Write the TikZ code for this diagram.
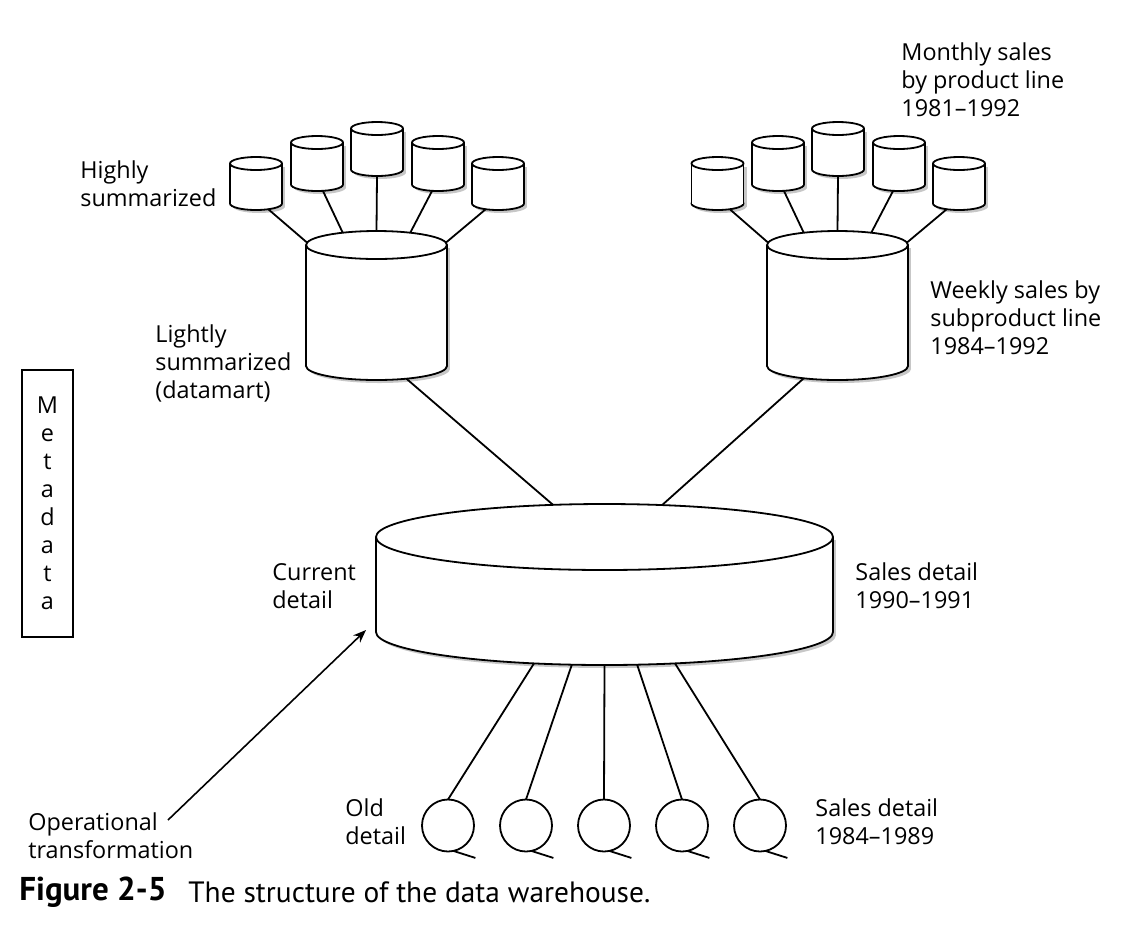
\documentclass[tikz,border=0pt]{standalone}
\usepackage{fontspec}
\setmainfont{Open Sans}
\newfontfamily\capfont{PT Sans}
\usetikzlibrary{shapes.geometric, positioning, arrows.meta}

\tikzset{
  wire/.style={line width=0.9pt},
  drumend/.style={ellipse, draw, line width=0.9pt, fill=white, inner sep=0pt, outer sep=0pt},
  tape/.style={circle, draw, line width=0.9pt, minimum size=26pt, inner sep=0pt, outer sep=0pt},
  lbl/.style={anchor=west, align=left, inner sep=0pt, font=\fontsize{11.7}{14}\selectfont},
}

% #1 name, #2 x of centre, #3 y of top centre, #4 rx, #5 ry, #6 depth
\newcommand{\drum}[6]{%
  \fill[black!22] (#2+3,#3+#6+3) ellipse [x radius=#4, y radius=#5];
  \fill[black!22] (#2-#4+3,#3+3) rectangle (#2+#4+3,#3+#6+3);
  \node[drumend, minimum width=#4pt, minimum height=#5pt] (#1b) at (#2,#3+#6) {};
  \fill[white] (#2-#4,#3) rectangle (#2+#4,#3+#6);
  \draw[wire] (#2-#4,#3) -- (#2-#4,#3+#6) (#2+#4,#3) -- (#2+#4,#3+#6);
  \node[drumend, minimum width=#4pt, minimum height=#5pt] (#1) at (#2,#3) {};
}

\begin{document}
\begin{tikzpicture}[x=0.5pt, y=-0.5pt]
\useasboundingbox (0,0) rectangle (1130,928);

% highly summarized (left)
\drum{hA}{256}{163.5}{26}{6.5}{40}
\drum{hB}{317}{142.5}{26}{6.5}{42}
\drum{hC}{377}{128.5}{26}{6.5}{41}
\drum{hD}{438}{142.5}{26}{6.5}{42}
\drum{hE}{498}{163.5}{26}{6.5}{40}
\drum{lite}{376.5}{245}{70.5}{14}{121}

% monthly sales (right)
\drum{mA}{717.5}{163.5}{26}{6.5}{40}
\drum{mB}{778}{142.5}{26}{6.5}{42}
\drum{mC}{838}{128.5}{26}{6.5}{41}
\drum{mD}{899}{142.5}{26}{6.5}{42}
\drum{mE}{959}{163.5}{26}{6.5}{40}
\drum{week}{837.5}{245}{70.5}{14}{121}

% current detail
\drum{cur}{604.5}{537}{228.5}{33}{95}

% old detail
\foreach \i/\x in {1/448, 2/526, 3/604, 4/682, 5/760}
  \node[tape] (t\i) at (\x,825.5) {};

\draw[wire] (hAb.-25) -- (lite.178);
\draw[wire] (hBb.-47) -- (lite.160);
\draw[wire] (hCb.-90) -- (lite.90);
\draw[wire] (hDb.-133) -- (lite.20);
\draw[wire] (hEb.-155) -- (lite.2);

\draw[wire] (mAb.-25) -- (week.178);
\draw[wire] (mBb.-47) -- (week.160);
\draw[wire] (mCb.-90) -- (week.90);
\draw[wire] (mDb.-133) -- (week.20);
\draw[wire] (mEb.-155) -- (week.2);

\draw[wire] (liteb.-23) -- (cur.148);
\draw[wire] (weekb.-160) -- (cur.29);

\draw[wire] (curb.-156) -- (t1.north);
\draw[wire] (curb.-135) -- (t2.north);
\draw[wire] (curb.-90) -- (t3.north);
\draw[wire] (curb.-45) -- (t4.north);
\draw[wire] (curb.-24) -- (t5.north);
\foreach \i in {1,...,5}
  \draw[wire] (t\i.-78) -- ++(22,7);

% labels
\node[lbl] (hsum) at (80,183.5) {Highly\\summarized};
\node[lbl] (lsum) at (155,363) {Lightly\\summarized\\(datamart)};
\node[lbl] (msales) at (901,80) {Monthly sales\\by product line\\1981–1992};
\node[lbl] (wsales) at (930,318) {Weekly sales by\\subproduct line\\1984–1992};
\node[lbl] (curlbl) at (272,586) {Current\\detail};
\node[lbl] (sdnow) at (855,586) {Sales detail\\1990–1991};
\node[lbl] (oldlbl) at (345,822) {Old\\detail};
\node[lbl] (sdold) at (815,822) {Sales detail\\1984–1989};
\node[lbl] (oplbl) at (28,836) {Operational\\transformation};

% metadata
\node[draw, line width=0.75pt, minimum width=25.5pt, minimum height=133.5pt,
  inner sep=0pt, align=center, font=\fontsize{11.7}{14}\selectfont] (meta)
  at (47.5,503.5) {M\\e\\t\\a\\d\\a\\t\\a};

% operational transformation arrow
\coordinate (opfrom) at (168,820);
\coordinate (optip) at (366,630);
\draw[line width=0.8pt, -{Stealth[length=6.5pt,width=5pt]}] (opfrom) -- (optip);

% caption
\node[anchor=west, inner sep=0pt, font=\capfont\bfseries\fontsize{16.5}{18}\selectfont] (figno) at (19,892) {Figure 2-5};
\node[anchor=west, inner sep=0pt, font=\capfont\fontsize{14.7}{17}\selectfont] (figtitle) at (188,892) {The structure of the data warehouse.};
\end{tikzpicture}
\end{document}
